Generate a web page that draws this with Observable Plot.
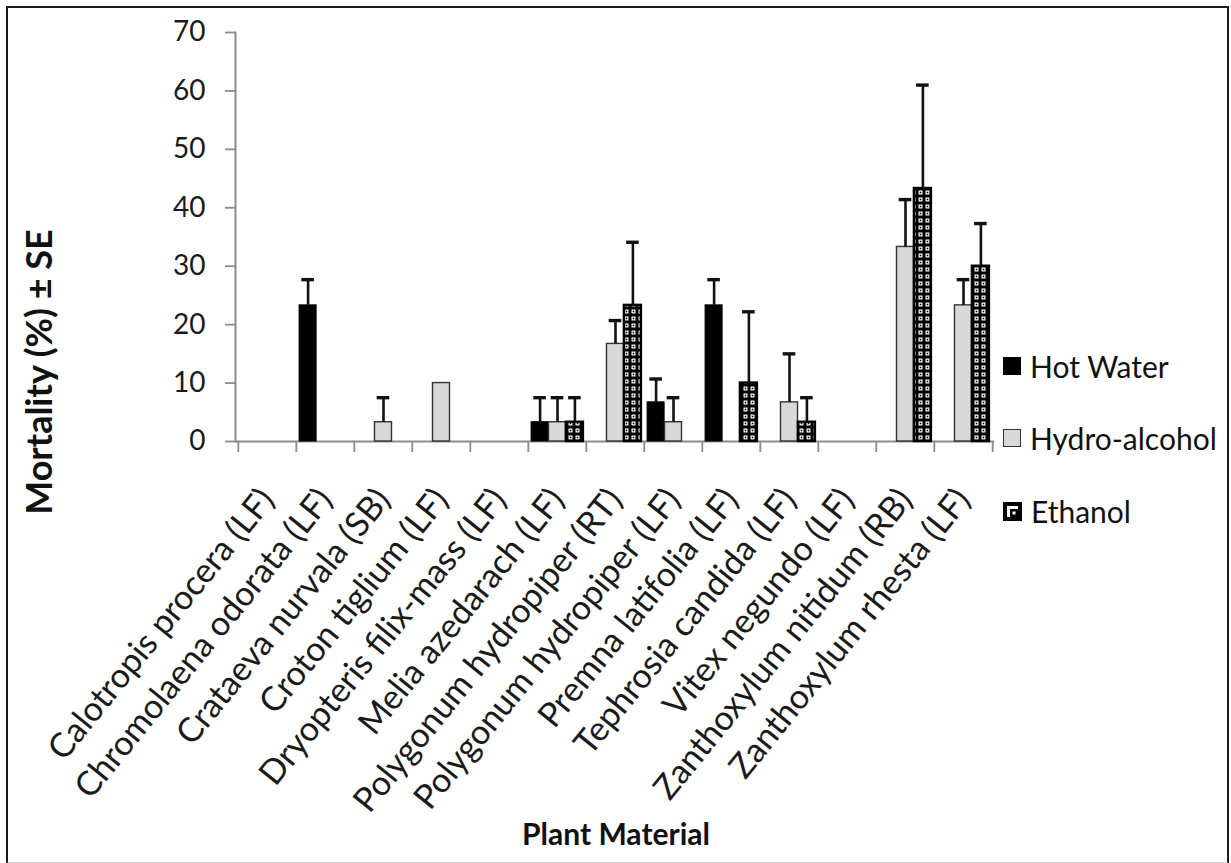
<!DOCTYPE html>
<html>
<head>
<meta charset="utf-8">
<script src="https://cdn.jsdelivr.net/npm/d3@7"></script>
<script src="https://cdn.jsdelivr.net/npm/@observablehq/plot@0.6"></script>
<style>
  html, body { margin: 0; padding: 0; background: #fff; }
  #wrap { position: relative; width: 1231px; height: 863px; overflow: hidden; font-family: Lato, "Open Sans", sans-serif; color: #111; }
  #border { position: absolute; left: 6px; top: 6px; width: 1223px; height: 858px; box-sizing: border-box;
            border: 2px solid #1a1a1a; border-bottom: 2px solid #d0d0d0; pointer-events: none; }
  #chart { position: absolute; left: 0; top: 0; }
  .ylab { position: absolute; left: 38px; top: 372px; transform: translate(-50%, -50%) rotate(-90deg);
          font-weight: bold; font-size: 36px; white-space: nowrap; }
  .xlab { position: absolute; left: 616px; top: 833px; transform: translate(-50%, -50%);
          font-weight: bold; font-size: 30px; white-space: nowrap; }
  .legend-item { position: absolute; left: 1003px; height: 36px; display: flex; align-items: center; gap: 9px;
                 font-size: 30px; line-height: 36px; white-space: nowrap; }
  .sw { width: 18px; height: 18px; box-sizing: border-box; }
</style>
</head>
<body>
<div id="wrap">
  <div id="chart"></div>
  <div class="ylab">Mortality (%) ± SE</div>
  <div class="xlab">Plant Material</div>
  <div id="legend"></div>
  <div id="border"></div>
</div>
<script>
const categories = [
  "Calotropis procera (LF)",
  "Chromolaena odorata (LF)",
  "Crataeva nurvala (SB)",
  "Croton tiglium (LF)",
  "Dryopteris filix-mass (LF)",
  "Melia azedarach (LF)",
  "Polygonum hydropiper (RT)",
  "Polygonum hydropiper (LF)",
  "Premna latifolia (LF)",
  "Tephrosia candida (LF)",
  "Vitex negundo (LF)",
  "Zanthoxylum nitidum (RB)",
  "Zanthoxylum rhesta (LF)"
];
const series = ["Hot Water", "Hydro-alcohol", "Ethanol"];
const hotWater       = [0, 23.3, 0, 0, 0, 3.3, 0, 6.7, 23.3, 0, 0, 0, 0];
const hotWaterSE     = [0, 4.4, 0, 0, 0, 4.2, 0, 4.0, 4.4, 0, 0, 0, 0];
const hydroAlcohol   = [0, 0, 3.3, 10, 0, 3.3, 16.7, 3.3, 0, 6.7, 0, 33.3, 23.3];
const hydroAlcoholSE = [0, 0, 4.2, 0, 0, 4.2, 4.0, 4.2, 0, 8.3, 0, 8.1, 4.4];
const ethanol        = [0, 0, 0, 0, 0, 3.3, 23.3, 0, 10, 3.3, 0, 43.3, 30];
const ethanolSE      = [0, 0, 0, 0, 0, 4.2, 10.8, 0, 12.2, 4.2, 0, 17.7, 7.3];
const yTicks = [0, 10, 20, 30, 40, 50, 60, 70];

const seriesValues = [hotWater, hydroAlcohol, ethanol];
const seriesSE = [hotWaterSE, hydroAlcoholSE, ethanolSE];

const rows = [];
series.forEach((s, j) => categories.forEach((c, i) => {
  rows.push({category: c, series: s, value: seriesValues[j][i], se: seriesSE[j][i]});
}));

const W = 1231, H = 863;
const mLeft = 235, mRight = 237, mTop = 32, mBottom = 422;
const bw = (W - mLeft - mRight) / categories.length;
const barW = 17.4;
const gap = (bw - 3 * barW) / 2;

const styles = {
  "Hot Water":     {fill: "#000", stroke: "#000", strokeWidth: 1},
  "Hydro-alcohol": {fill: "#d9d9d9", stroke: "#333", strokeWidth: 1.4},
  "Ethanol":       {fill: "url(#ethPattern)", stroke: "#000", strokeWidth: 2.4}
};

const marks = [];
series.forEach((s, j) => {
  const data = rows.filter(d => d.series === s && d.value > 0);
  marks.push(Plot.barY(data, {
    x: "category", y: "value",
    insetLeft: gap + j * barW, insetRight: bw - gap - (j + 1) * barW,
    ...styles[s]
  }));
});
series.forEach((s, j) => {
  const data = rows.filter(d => d.series === s && d.se > 0);
  const dx = (j - 1) * barW;
  marks.push(Plot.ruleX(data, {x: "category", y1: "value", y2: d => d.value + d.se, dx, stroke: "#111", strokeWidth: 2.6}));
  marks.push(Plot.tickY(data, {x: "category", y: d => d.value + d.se, dx, insetLeft: (bw - 13) / 2, insetRight: (bw - 13) / 2, stroke: "#111", strokeWidth: 3.4}));
});

const chart = Plot.plot({
  width: W, height: H,
  marginLeft: mLeft, marginRight: mRight, marginTop: mTop, marginBottom: mBottom,
  style: {fontFamily: "Lato, 'Open Sans', sans-serif", background: "transparent", color: "#111"},
  x: {type: "band", domain: categories, paddingInner: 0, paddingOuter: 0},
  y: {domain: [0, 70]},
  marks: [
    Plot.axisY({ticks: yTicks, tickSize: 10, tickPadding: 20, fontSize: 28, stroke: "#8c8c8c", fill: "#1a1a1a", strokeWidth: 1.8, label: null}),
    Plot.frame({anchor: "left", stroke: "#8c8c8c", strokeWidth: 2}),
    Plot.axisX({tickSize: 11, tickFormat: () => "", dx: -bw / 2, stroke: "#8c8c8c", strokeWidth: 1.8, label: null}),
    Plot.axisX({ticks: [categories[categories.length - 1]], tickSize: 11, tickFormat: () => "", dx: bw / 2, stroke: "#8c8c8c", strokeWidth: 1.8, label: null}),
    Plot.axisX({tickSize: 0, tickRotate: -51, tickPadding: 52, fontSize: 34, fill: "#1a1a1a", label: null}),
    Plot.ruleY([0], {stroke: "#8c8c8c", strokeWidth: 2}),
    ...marks
  ]
});

// pattern for Ethanol bars
const ns = "http://www.w3.org/2000/svg";
function addPattern(svg) {
  const defs = document.createElementNS(ns, "defs");
  defs.innerHTML = `<pattern id="ethPattern" width="7" height="7" patternUnits="userSpaceOnUse">
      <rect width="7" height="7" fill="#000"/>
      <rect x="1.5" y="1.5" width="4" height="4" fill="#fff"/>
      <rect x="2.7" y="2.7" width="1.6" height="1.6" fill="#000"/>
    </pattern>`;
  svg.insertBefore(defs, svg.firstChild);
}
addPattern(chart);
document.getElementById("chart").appendChild(chart);

// legend
const legendTops = [348, 420, 493];
const legend = document.getElementById("legend");
series.forEach((s, j) => {
  const item = document.createElement("div");
  item.className = "legend-item";
  item.style.top = legendTops[j] + "px";
  let sw;
  if (s === "Ethanol") {
    sw = `<svg width="19" height="19" style="display:block"><rect x="0" y="0" width="19" height="19" fill="#000"/>
          <rect x="4" y="4" width="11" height="11" fill="#fff"/><rect x="7" y="7" width="8" height="8" fill="#000"/>
          <rect x="9.5" y="9.5" width="3" height="3" fill="#fff"/></svg>`;
  } else {
    const st = styles[s];
    sw = `<div class="sw" style="background:${st.fill};border:1.5px solid ${st.stroke}"></div>`;
  }
  item.innerHTML = sw + `<span>${s}</span>`;
  legend.appendChild(item);
});
</script>
</body>
</html>
